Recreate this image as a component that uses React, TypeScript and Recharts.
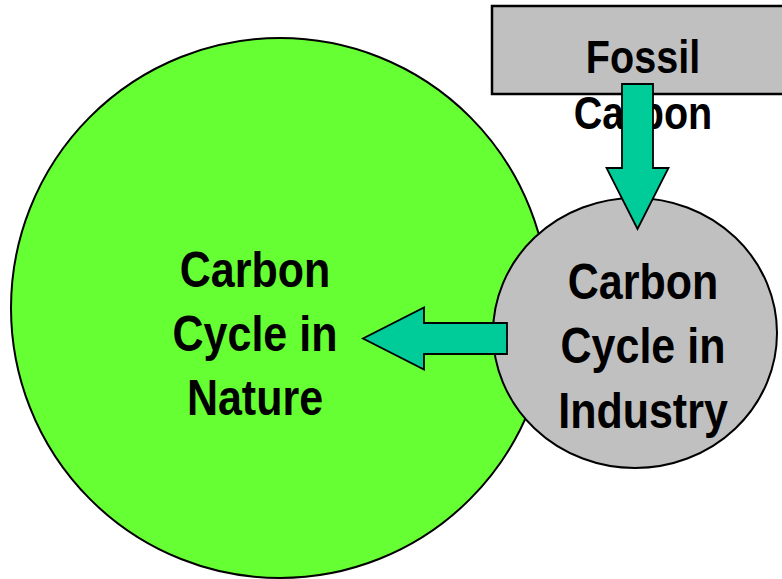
import React from "react";
import { ScatterChart, Scatter, XAxis, YAxis } from "recharts";

const W = 782;
const H = 579;

const circles = [
  { name: "Nature", x: 280, y: 308, rx: 269, ry: 270, fill: "#66FF33" },
  { name: "Industry", x: 635, y: 333, rx: 142, ry: 135, fill: "#C0C0C0" },
];

const boxes = [{ name: "Fossil", x: 492, y: 6, w: 300, h: 88, fill: "#C0C0C0" }];

const arrows = [
  { name: "toIndustry", x: 637.5, y: 84, dx: 0, dy: 145 },
  { name: "toNature", x: 507, y: 338.5, dx: -144, dy: 0 },
];

const fossilLabel = [{ x: 643, y: 73, lines: ["Fossil", "Carbon"], size: 46, lh: 56 }];

const circleLabels = [
  { x: 255, y: 287, lines: ["Carbon", "Cycle in", "Nature"], size: 50, lh: 64 },
  { x: 643, y: 299, lines: ["Carbon", "Cycle in", "Industry"], size: 50, lh: 64.5 },
];

const FONT = "'Liberation Sans Narrow', 'Arial Narrow', 'Liberation Sans', Arial, sans-serif";
const NARROW = 0.86;
const SHAFT = 31;
const HEAD_W = 62;
const HEAD_L = 61;

const EllipseShape = (p: any) => (
  <ellipse cx={p.cx} cy={p.cy} rx={p.payload.rx} ry={p.payload.ry} fill={p.payload.fill} stroke="#000" strokeWidth={2} />
);

const BoxShape = (p: any) => (
  <rect x={p.cx} y={p.cy} width={p.payload.w} height={p.payload.h} fill={p.payload.fill} stroke="#000" strokeWidth={2.5} />
);

const ArrowShape = (p: any) => {
  const { dx, dy } = p.payload;
  const len = Math.sqrt(dx * dx + dy * dy);
  const ang = (Math.atan2(dy, dx) * 180) / Math.PI;
  const s = SHAFT / 2;
  const h = HEAD_W / 2;
  const b = len - HEAD_L;
  const pts = [
    [0, -s], [b, -s], [b, -h], [len, 0], [b, h], [b, s], [0, s],
  ].map((q) => q.join(",")).join(" ");
  return (
    <g transform={`translate(${p.cx},${p.cy}) rotate(${ang})`}>
      <polygon points={pts} fill="#00CC99" stroke="#000" strokeWidth={1.8} strokeLinejoin="miter" />
    </g>
  );
};

const TextShape = (p: any) => {
  const d = p.payload;
  return (
    <g transform={`translate(${p.cx},${p.cy}) scale(${NARROW},1)`}>
      <text x={0} y={0} textAnchor="middle" fontFamily={FONT} fontWeight="bold" fontSize={d.size} fill="#000">
        {d.lines.map((l: string, i: number) => (
          <tspan key={i} x={0} y={i * d.lh}>{l}</tspan>
        ))}
      </text>
    </g>
  );
};

export default function App() {
  return (
    <div style={{ position: "absolute", left: 0, top: 0, width: W, height: H, background: "#fff" }}>
      <ScatterChart width={W} height={H} margin={{ top: 0, right: 0, bottom: 0, left: 0 }}>
        <XAxis type="number" dataKey="x" domain={[0, W]} hide allowDataOverflow />
        <YAxis type="number" dataKey="y" domain={[0, H]} reversed hide allowDataOverflow />
        <Scatter data={circles} shape={EllipseShape} isAnimationActive={false} />
        <Scatter data={boxes} shape={BoxShape} isAnimationActive={false} />
        <Scatter data={fossilLabel} shape={TextShape} isAnimationActive={false} />
        <Scatter data={arrows} shape={ArrowShape} isAnimationActive={false} />
        <Scatter data={circleLabels} shape={TextShape} isAnimationActive={false} />
      </ScatterChart>
    </div>
  );
}
